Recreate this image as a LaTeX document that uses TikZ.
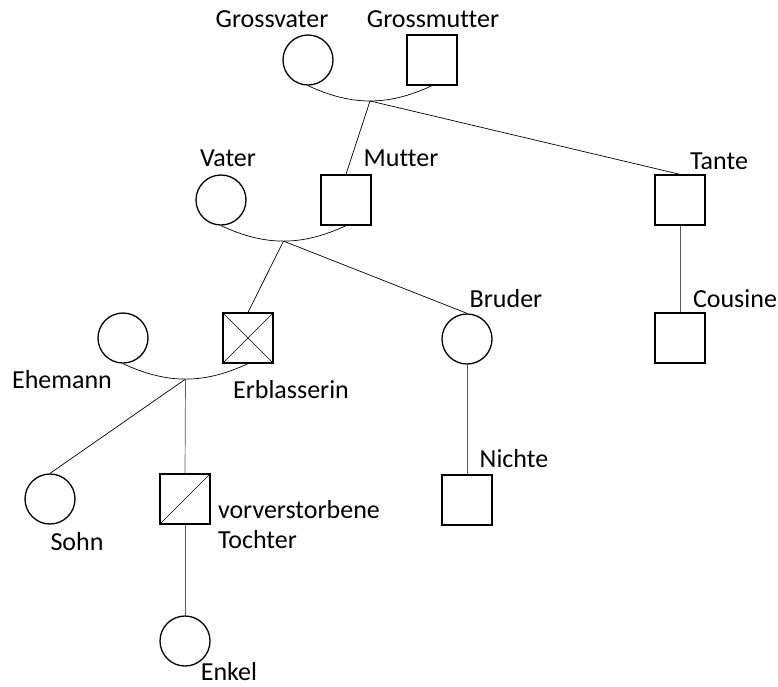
\documentclass[tikz,border=0pt]{standalone}
\usepackage{fontspec}
\setmainfont{Carlito}[Ligatures=NoCommon]
\usetikzlibrary{positioning}

\begin{document}
\begin{tikzpicture}[
    x=1pt, y=-1pt,
    line width=0.7pt,
    kreis/.style={circle, draw, line width=1.3pt, minimum size=50pt, inner sep=0pt},
    quadrat/.style={rectangle, draw, line width=1.3pt, minimum size=50pt, inner sep=0pt},
    beschrift/.style={font=\fontsize{26}{30}\selectfont, inner sep=0pt,
        text height=18pt, text depth=0pt, align=left},
    ehe/.style={bend right=25},
    linie/.style={draw=black},
    abstamm/.style={draw=black!65}
]
\useasboundingbox (0,0) rectangle (778,686);

% Grosseltern
\node[kreis] (gv) at (308,60) {};
\node[quadrat] (gm) at (432,60) {};
\node[beschrift, above=7pt of gv, xshift=-36pt] {Grossvater};
\node[beschrift, above=7pt of gm, xshift=1pt] {Grossmutter};

% Eltern und Tante
\node[kreis] (vat) at (221,200) {};
\node[quadrat] (mut) at (346,200) {};
\node[quadrat] (tan) at (680,200) {};
\node[beschrift, above=8pt of vat, xshift=7pt] {Vater};
\node[beschrift, above=8pt of mut, xshift=55pt] {Mutter};
\node[beschrift, above=5pt of tan, xshift=39pt] {Tante};

% Geschwister-Generation
\node[kreis] (ehm) at (123,338) {};
\node[quadrat] (erb) at (248,338) {};
\node[kreis] (bru) at (467,339) {};
\node[quadrat] (cou) at (680,338) {};
\node[beschrift, below=6pt of ehm, xshift=-61pt] {Ehemann};
\node[beschrift, below=16pt of erb, xshift=43pt] {Erblasserin};
\node[beschrift, above=6pt of bru, xshift=39pt] {Bruder};
\node[beschrift, above=5pt of cou, xshift=55pt] {Cousine};

% Kinder
\node[kreis] (soh) at (50,499) {};
\node[quadrat] (toc) at (185,499) {};
\node[quadrat] (nic) at (467,500) {};
\node[beschrift, below=7pt of soh, xshift=27pt] {Sohn};
\node[beschrift, below right=57pt and 7pt of toc.north east] {vorverstorbene\\Tochter};
\node[beschrift, above=7pt of nic, xshift=47pt] {Nichte};

% Enkel
\node[kreis] (enk) at (185,641) {};
\node[beschrift, below=-5pt of enk, xshift=44pt] {Enkel};

% verstorben
\draw[line width=0.6pt] (erb.north west) -- (erb.south east)
    (erb.north east) -- (erb.south west);
\draw[line width=0.6pt] (toc.south west) -- (toc.north east);

% Ehen
\draw[linie] (gv.south) to[ehe] coordinate[pos=0.5] (p1) (gm.south);
\draw[linie] (vat.south) to[ehe] coordinate[pos=0.5] (p2) (mut.south);
\draw[linie] (ehm.south) to[ehe] coordinate[pos=0.5] (p3) (erb.south);

% Abstammung
\draw[linie] (p1) -- (mut.north);
\draw[linie] (p1) -- (tan.north);
\draw[linie] (p2) -- (erb.north);
\draw[linie] (p2) -- (bru.north);
\draw[linie] (p3) -- (soh.north);
\draw[abstamm] (p3) -- (toc.north);
\draw[abstamm] (toc) -- (enk);
\draw[abstamm] (tan) -- (cou);
\draw[abstamm] (bru) -- (nic);

\end{tikzpicture}
\end{document}
